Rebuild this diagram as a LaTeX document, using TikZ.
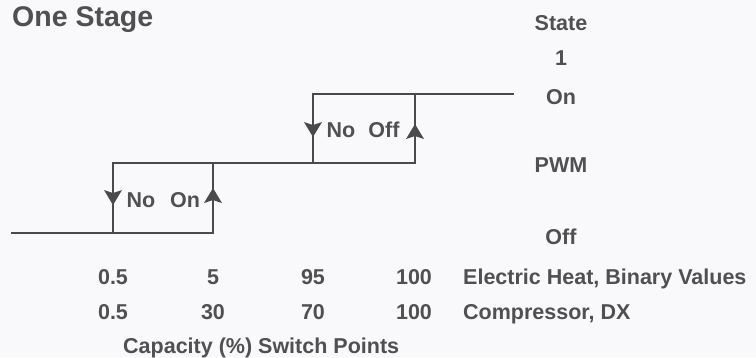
\documentclass[tikz,border=0pt]{standalone}
\usepackage{fontspec}
\setmainfont{Liberation Sans}
\definecolor{inkgray}{HTML}{505052}
\definecolor{linegray}{HTML}{4A4A4C}
\definecolor{paper}{HTML}{F9F9FB}
\tikzset{
  lbl/.style={text=inkgray,font=\bfseries\fontsize{21.5}{25}\selectfont,inner sep=0pt,anchor=base},
  title/.style={text=inkgray,font=\bfseries\fontsize{28.5}{33}\selectfont,inner sep=0pt,anchor=base west},
  trace/.style={draw=linegray,line width=2.4pt,line cap=rect},
  downhead/.pic={\fill[linegray] (0,0) -- (-9,-15) -- (0,-12) -- (9,-15) -- cycle;},
  uphead/.pic={\fill[linegray] (0,0) -- (-9,15) -- (0,12) -- (9,15) -- cycle;}
}
\begin{document}
\begin{tikzpicture}[x=1pt,y=-1pt]
  \fill[paper] (0,0) rectangle (756,357);
  \useasboundingbox (0,0) rectangle (756,357);

  \node[title] (heading) at (12,26) {One Stage};

  % corners of the step curve
  \coordinate (offL) at (12,233);
  \coordinate (offA) at (113,233);
  \coordinate (offB) at (213,233);
  \coordinate (pwmA) at (113,163);
  \coordinate (pwmB) at (213,163);
  \coordinate (pwmC) at (313,163);
  \coordinate (pwmD) at (415,163);
  \coordinate (onC) at (313,94);
  \coordinate (onD) at (415,94);
  \coordinate (onR) at (513,94);

  \draw[trace] (offL) -- (offB);
  \draw[trace] (pwmA) -- (pwmD);
  \draw[trace] (onC) -- (onR);
  \draw[trace] (pwmA) -- (offA);
  \draw[trace] (offB) -- (pwmB);
  \draw[trace] (onC) -- (pwmC);
  \draw[trace] (pwmD) -- (onD);

  % arrow heads on the risers
  \coordinate (tipA) at (113,205);
  \coordinate (tipB) at (213,188);
  \coordinate (tipC) at (313,137);
  \coordinate (tipD) at (415,124);
  \pic at (tipA) {downhead};
  \pic at (tipB) {uphead};
  \pic at (tipC) {downhead};
  \pic at (tipD) {uphead};

  \node[lbl] (noA) at (141,207) {No};
  \node[lbl] (onA) at (185,207) {On};
  \node[lbl] (noB) at (341,137) {No};
  \node[lbl] (offB) at (384,137) {Off};

  \node[lbl] (state) at (561,30) {State};
  \node[lbl] (one) at (561,65) {1};
  \node[lbl] (stOn) at (561,104) {On};
  \node[lbl] (stPwm) at (561,172) {PWM};
  \node[lbl] (stOff) at (561,244) {Off};

  \node[lbl] (heatA) at (113,284) {0.5};
  \node[lbl] (heatB) at (213,284) {5};
  \node[lbl] (heatC) at (313,284) {95};
  \node[lbl] (heatD) at (414,284) {100};
  \node[lbl,anchor=base west] (heat) at (463,284) {Electric Heat, Binary Values};

  \node[lbl] (compA) at (113,319) {0.5};
  \node[lbl] (compB) at (213,319) {30};
  \node[lbl] (compC) at (313,319) {70};
  \node[lbl] (compD) at (414,319) {100};
  \node[lbl,anchor=base west] (comp) at (463,319) {Compressor, DX};

  \node[lbl,anchor=base west] (caption) at (123,353) {Capacity (\%) Switch Points};
\end{tikzpicture}
\end{document}
